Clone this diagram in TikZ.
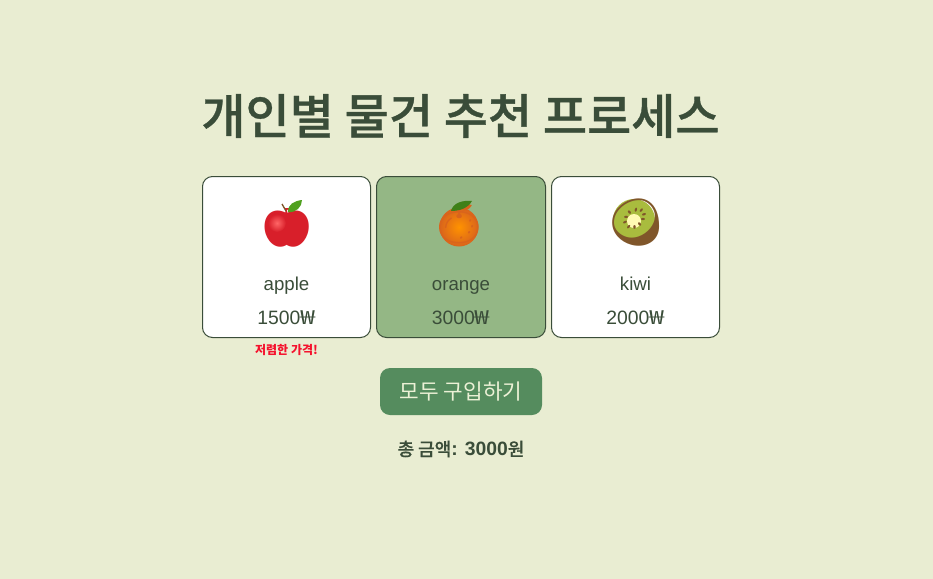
\documentclass[tikz,border=0pt]{standalone}
\usepackage{fontspec}
\usepackage{graphicx}
\setmainfont{Liberation Sans}
\newfontfamily\krfont{Noto Sans CJK KR}
\newfontfamily\krmedium[FakeBold=0.7]{Noto Sans CJK KR Medium}
\newfontfamily\emojifont{Noto Emoji}
\newcommand{\wonsign}{\scalebox{1.4}[1]{\krfont ₩}}
\definecolor{pagebg}{HTML}{E9EDD2}
\definecolor{inktext}{HTML}{3A4D39}
\definecolor{cardpick}{HTML}{94B785}
\definecolor{btngreen}{HTML}{558C5E}
\definecolor{btntext}{HTML}{ECF1D6}
\definecolor{saleRed}{HTML}{F5122D}
\definecolor{appleRed}{HTML}{D81F2A}
\definecolor{orangeTone}{HTML}{D9641C}
\definecolor{kiwiSkin}{HTML}{80562A}
\definecolor{kiwiFlesh}{HTML}{A9BC3E}
\definecolor{leafGreen}{HTML}{4FA01E}
\begin{document}
\begin{tikzpicture}[x=0.75pt, y=-0.75pt,
		card/.style={draw=inktext, line width=0.75pt, rounded corners=7.5pt, fill=white, minimum width=126pt, minimum height=120.75pt, inner sep=0pt},
		itemname/.style={text=inktext, anchor=base, font=\fontsize{14pt}{16pt}\selectfont},
		itemprice/.style={text=inktext, anchor=base, font=\fontsize{14.5pt}{17pt}\selectfont},
		fruit/.style={font=\emojifont\fontsize{35pt}{40pt}\selectfont}]
		\useasboundingbox (0, 0) rectangle (933, 579);
		\fill[pagebg] (0, 0) rectangle (933, 579);
		
		% Title
		\node (title) at (460.5, 116) [text=inktext, font=\krmedium\fontsize{36pt}{44pt}\selectfont] {개인별 물건 추천 프로세스};
		
		% Cards
		\node[card] (cardA) at (286.5, 257) {};
		\node[card, fill=cardpick, minimum width=126.75pt] (cardB) at (461, 257) {};
		\node[card] (cardC) at (635.5, 257) {};
		
		% Fruits
		\node[fruit, text=appleRed] (apple) at (287, 224) {🍎};
		\shade[inner color=red!60!white, outer color=appleRed] (277, 223) circle (9);
		\fill[white] (282, 198) rectangle (303, 208);
		\fill[leafGreen] (288, 212) .. controls (288, 204) and (294, 201) .. (302, 200) .. controls (302, 207) and (296, 213) .. (288, 212);
		\draw[kiwiSkin, line width=1pt] (286, 211) -- (282, 204);
		
		\shade[inner color=orange!85!yellow, outer color=orangeTone] (459, 227) circle (19.5);
		\node[fruit, text=orangeTone, font=\emojifont\fontsize{29pt}{34pt}\selectfont] (orange) at (459, 224) {🍊};
		\fill[leafGreen!80!black] (451, 211) .. controls (453, 203) and (462, 200) .. (472, 201) .. controls (468, 208) and (460, 211) .. (451, 211);
		
		\fill[kiwiFlesh] (634, 220) circle (21);
		\fill[white!70!yellow] (634, 221) circle (7);
		\node[fruit, text=kiwiSkin] (kiwi) at (636, 223) {🥝};
		
		% Names and prices
		\node[itemname] (nameA) at (286.5, 290) {apple};
		\node[itemname] (nameB) at (461, 290) {orange};
		\node[itemname] (nameC) at (635.5, 290) {kiwi};
		\node[itemprice] (priceA) at (286.5, 324) {1500\wonsign};
		\node[itemprice] (priceB) at (461, 324) {3000\wonsign};
		\node[itemprice] (priceC) at (635.5, 324) {2000\wonsign};
		
		% Cheap label
		\node (cheap) at (286.5, 350) [text=saleRed, font=\krfont\bfseries\fontsize{9pt}{11pt}\selectfont] {저렴한 가격!};
		
		% Button and total
		\node (buy) at (461, 391.5) [fill=btngreen, rounded corners=7.5pt, minimum width=121.5pt, minimum height=35.25pt, inner sep=0pt, text=btntext, font=\krfont\fontsize{16pt}{20pt}\selectfont] {모두 구입하기};
		\node (total) at (461, 449) [text=inktext, font=\krmedium\fontsize{13.5pt}{16pt}\selectfont] {총 금액{\bfseries\rmfamily\fontsize{14.5pt}{16pt}\selectfont: 3000}원};
		
	\end{tikzpicture}
\end{document}
